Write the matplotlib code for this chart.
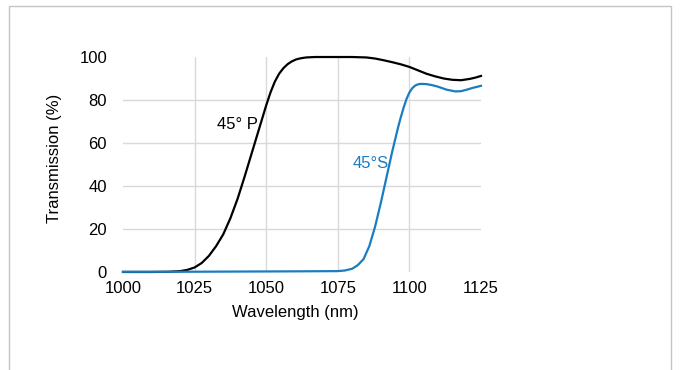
import matplotlib
matplotlib.use('Agg')
import matplotlib.pyplot as plt
from matplotlib.patches import Rectangle

plt.rcParams['font.family'] = ['Liberation Sans', 'DejaVu Sans']

# Krivka 45° P (vlnova dlzka v nm, priepustnost v %)
p_vlna = [1000, 1010, 1016, 1020, 1022.5, 1025, 1027.5, 1030, 1032.5, 1035, 1037.5, 1040,
          1042.5, 1045, 1047.5, 1050, 1051.5, 1053, 1054.5, 1056, 1057.5, 1059, 1060.5,
          1062, 1064, 1067, 1070, 1075, 1080, 1085, 1088, 1091, 1094, 1097, 1100, 1103,
          1106, 1109, 1112, 1115, 1118, 1121, 1123, 1125]
p_prieps = [0, 0, 0.1, 0.4, 1, 2.1, 4.2, 7.5, 12, 17.5, 25, 34,
            44.5, 55.5, 66.5, 77.5, 83.5, 88.5, 92.2, 94.8, 96.7, 98, 98.9,
            99.4, 99.8, 100, 100, 100, 100, 99.8, 99.3, 98.5, 97.6, 96.6, 95.4, 93.8,
            92.2, 91, 90, 89.4, 89.2, 89.8, 90.4, 91.2]

# Krivka 45° S
s_vlna = [1000, 1020, 1040, 1060, 1075, 1077.5, 1080, 1082, 1084, 1086, 1088, 1090,
          1092, 1094, 1096, 1097, 1098, 1099, 1100, 1101, 1102, 1103, 1104, 1106,
          1108, 1110, 1113, 1116, 1118, 1120, 1122, 1125]
s_prieps = [0.1, 0.1, 0.2, 0.3, 0.4, 0.7, 1.5, 3.2, 6, 12, 21, 32,
            44, 56, 67, 72, 76.5, 80.5, 83.5, 85.5, 86.7, 87.3, 87.5, 87.4,
            86.9, 86.2, 84.8, 84, 84.1, 84.8, 85.6, 86.6]

x_ticky = [1000, 1025, 1050, 1075, 1100, 1125]
y_ticky = [0, 20, 40, 60, 80, 100]

modra = '#1a7dc1'
velkost = 12

fig = plt.figure(figsize=(6.81, 3.70), dpi=100)

# sivy ramcek okolo grafu
fig.patches.append(Rectangle((0.0125, -0.1), 0.973, 1.0835, transform=fig.transFigure,
                             fill=False, edgecolor='#c4c4c4', linewidth=1))

ax = fig.add_axes([0.1806, 0.2649, 0.5257, 0.581])

# mriezka len vo vnutri
for x in x_ticky[1:-1]:
    ax.axvline(x, color='#d9d9d9', linewidth=1, zorder=0)
for y in y_ticky[1:-1]:
    ax.axhline(y, color='#d9d9d9', linewidth=1, zorder=0)

ax.plot(p_vlna, p_prieps, color='black', linewidth=1.6, clip_on=False)
ax.plot(s_vlna, s_prieps, color=modra, linewidth=1.6, clip_on=False)

ax.text(1040.0, 68.8, '45° P', color='black', fontsize=velkost, ha='center', va='center')
ax.text(1086.6, 50.6, '45°S', color=modra, fontsize=velkost, ha='center', va='center')

ax.set_xlim(1000, 1125)
ax.set_ylim(0, 100)
ax.set_xticks(x_ticky)
ax.set_yticks(y_ticky)
ax.tick_params(axis='both', length=0, labelsize=velkost, colors='black')
ax.tick_params(axis='y', pad=11.5)
ax.tick_params(axis='x', pad=6.5)
for s in ax.spines.values():
    s.set_visible(False)

# popisy osi
fig.text(295 / 681, 1 - 313 / 370, 'Wavelength (nm)', fontsize=velkost, ha='center', va='center')
fig.text(55 / 681, 1 - 158 / 370, 'Transmission (%)', fontsize=velkost, rotation=90,
         ha='center', va='center')

fig.savefig('out.png', dpi=100)
